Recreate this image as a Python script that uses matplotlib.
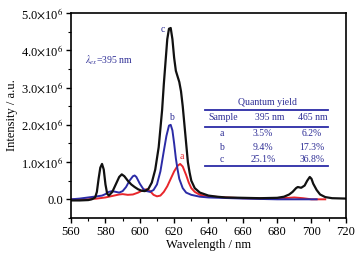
import matplotlib
matplotlib.use('Agg')
import matplotlib.pyplot as plt
from matplotlib.ticker import MultipleLocator, FixedLocator, FixedFormatter

plt.rcParams['font.family'] = ['Liberation Serif', 'DejaVu Serif']
plt.rcParams['mathtext.fontset'] = 'stix'

# sample c (black)
wl_c = [560, 565, 570, 572, 574, 575, 576, 577, 578, 579, 580, 581, 582, 584, 586, 588, 589.5,
        591, 593, 595, 597, 599, 601, 603, 605, 607, 609, 611, 613, 614, 615, 616, 617, 618,
        619, 620, 621, 622, 623, 624, 625, 626, 627, 628, 629, 630, 632, 635, 640, 645, 650,
        660, 670, 680, 684, 687, 689, 691, 692, 694, 696, 697.5, 699, 700, 701, 703, 705,
        708, 712, 720]
int_c = [-0.03, -0.03, -0.02, 0.0, 0.05, 0.2, 0.55, 0.85, 0.95, 0.8, 0.4, 0.15, 0.1, 0.2, 0.4,
         0.6, 0.67, 0.62, 0.5, 0.4, 0.33, 0.27, 0.23, 0.22, 0.28, 0.45, 0.8, 1.4, 2.4, 3.1, 3.7,
         4.3, 4.58, 4.6, 4.3, 3.8, 3.45, 3.3, 3.15, 2.9, 2.5, 2.0, 1.5, 1.0, 0.72, 0.5, 0.3,
         0.18, 0.1, 0.07, 0.05, 0.04, 0.03, 0.04, 0.07, 0.13, 0.2, 0.3, 0.33, 0.31, 0.37, 0.5,
         0.6, 0.55, 0.42, 0.25, 0.13, 0.06, 0.03, 0.02]

# sample b (blue)
wl_b = [560, 565, 570, 575, 578, 580, 582, 584, 586, 588, 590, 592, 594, 596, 597, 598, 600,
        602, 604, 606, 608, 610, 612, 614, 615.5, 617, 618, 619, 620, 621, 622, 623, 625, 627,
        630, 635, 640, 660, 680, 703]
int_b = [0.0, 0.02, 0.05, 0.08, 0.1, 0.14, 0.2, 0.22, 0.2, 0.18, 0.22, 0.33, 0.5, 0.62, 0.64,
         0.6, 0.42, 0.28, 0.22, 0.2, 0.25, 0.4, 0.75, 1.3, 1.7, 1.98, 2.0, 1.85, 1.5, 1.1, 0.8,
         0.55, 0.3, 0.18, 0.12, 0.07, 0.05, 0.02, 0.0, 0.0]

# sample a (red)
wl_a = [560, 570, 575, 580, 585, 588, 590, 593, 596, 599, 602, 604, 606, 608, 610, 612, 614,
        616, 618, 620, 622, 623.5, 625, 627, 628.5, 630, 632, 635, 640, 650, 660, 680, 690,
        695, 700, 708]
int_a = [0.0, 0.0, 0.02, 0.05, 0.1, 0.13, 0.14, 0.12, 0.13, 0.18, 0.25, 0.27, 0.22, 0.12, 0.08,
         0.1, 0.2, 0.35, 0.55, 0.75, 0.9, 0.95, 0.88, 0.65, 0.45, 0.3, 0.2, 0.12, 0.08, 0.05,
         0.03, 0.02, 0.05, 0.03, 0.0, 0.0]

samples = ['a', 'b', 'c']
qy_395 = ['3.5%', '9.4%', '25.1%']
qy_465 = ['6.2%', '17.3%', '36.8%']

navy = '#2e2e96'

fig = plt.figure(figsize=(3.61, 2.57), dpi=100)
ax = fig.add_axes([0.197, 0.152, 0.761, 0.797])

ax.plot(wl_a, int_a, color='#e8262b', lw=1.4)
ax.plot(wl_b, int_b, color='#2b2ba6', lw=1.4)
ax.plot(wl_c, int_c, color='#111111', lw=1.6)

ax.text(613.5, 4.57, 'c', color=navy, fontsize=7, ha='center', va='center')
ax.text(618.2, 2.2, 'b', color=navy, fontsize=7, ha='center', va='center')
ax.text(624.6, 1.14, 'a', color='#e8262b', fontsize=7, ha='center', va='center')

ax.set_xlim(560, 720)
ax.set_ylim(-0.5, 5.0)
ax.xaxis.set_major_locator(MultipleLocator(20))
ax.xaxis.set_minor_locator(MultipleLocator(10))
ax.yaxis.set_major_locator(FixedLocator([0, 1, 2, 3, 4, 5]))
ax.yaxis.set_major_formatter(FixedFormatter(
    ['0.0'] + ['%d.0$\\times$10$^{6}$' % i for i in range(1, 6)]))
ax.yaxis.set_minor_locator(MultipleLocator(0.5))
ax.tick_params(which='both', direction='out', top=False, right=False, labelsize=9)
ax.tick_params(which='major', length=3.5, width=1, pad=2)
ax.tick_params(which='minor', length=2, width=0.8)
for s in ax.spines.values():
    s.set_linewidth(1.2)

ax.set_xlabel('Wavelength / nm', fontsize=9, labelpad=1)
ax.set_ylabel('Intensity / a.u.', fontsize=9, labelpad=2)

ax.text(0.05, 0.77, '$\\lambda_{ex}$=395 nm', transform=ax.transAxes, color=navy,
        fontsize=7, va='center')

# quantum yield table
tr = ax.transAxes
ax.text(0.713, 0.566, 'Quantum yield', transform=tr, color=navy, fontsize=7,
        ha='center', va='center')
for yl in [0.527, 0.444, 0.254]:
    ax.plot([0.487, 0.935], [yl, yl], transform=tr, color='#2b2ba6', lw=1.3)
ax.text(0.553, 0.488, 'Sample', transform=tr, color=navy, fontsize=7, ha='center', va='center')
ax.text(0.724, 0.488, '395 nm', transform=tr, color=navy, fontsize=7, ha='center', va='center')
ax.text(0.88, 0.488, '465 nm', transform=tr, color=navy, fontsize=7, ha='center', va='center')
for yr, s, q1, q2 in zip([0.41, 0.346, 0.285], samples, qy_395, qy_465):
    ax.text(0.549, yr, s, transform=tr, color=navy, fontsize=7, ha='center', va='center')
    ax.text(0.698, yr, q1, transform=tr, color=navy, fontsize=7, ha='center', va='center')
    ax.text(0.876, yr, q2, transform=tr, color=navy, fontsize=7, ha='center', va='center')

fig.savefig('out.png', dpi=100)
